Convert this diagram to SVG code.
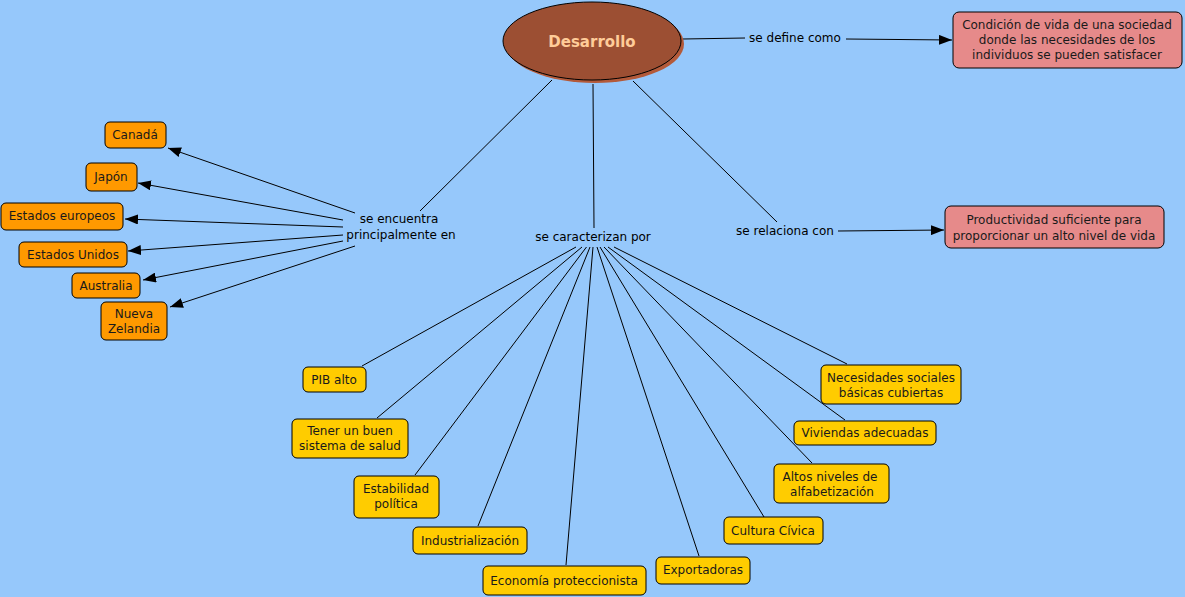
<svg xmlns="http://www.w3.org/2000/svg" width="1185" height="597" viewBox="0 0 1185 597">
<style>
text{font-family:"DejaVu Sans","Verdana",sans-serif;font-size:12px;fill:#1a1a1a;text-anchor:middle}
.lbl{fill:#000}
.or{fill:#ff9900;stroke:#000;stroke-width:1}
.ye{fill:#ffcc00;stroke:#000;stroke-width:1}
.pk{fill:#e68a8a;stroke:#000;stroke-width:1}
.ln{stroke:#000;stroke-width:1;fill:none}
.ar{stroke:#000;stroke-width:1;fill:none;marker-end:url(#ah)}
</style>
<defs>
<marker id="ah" markerUnits="userSpaceOnUse" markerWidth="14" markerHeight="10" refX="13" refY="5" orient="auto">
<path d="M0,0 L13,5 L0,10 Z" fill="#000"/>
</marker>
</defs>
<rect width="1185" height="597" fill="#96c8fb"/>
<g id="connectors">
<line class="ln" x1="683" y1="39" x2="745" y2="38"/>
<line class="ar" x1="846" y1="39" x2="952" y2="40"/>
<line class="ln" x1="633" y1="81" x2="777" y2="222"/>
<line class="ar" x1="838" y1="231" x2="944" y2="230"/>
<line class="ln" x1="552" y1="80" x2="420" y2="211"/>
<line class="ln" x1="593" y1="84" x2="594" y2="228"/>
<line class="ar" x1="355" y1="213" x2="168" y2="148"/>
<line class="ar" x1="343" y1="220" x2="138" y2="183"/>
<line class="ar" x1="343" y1="227" x2="125" y2="219"/>
<line class="ar" x1="343" y1="235" x2="128" y2="251"/>
<line class="ar" x1="343" y1="241" x2="143" y2="280"/>
<line class="ar" x1="355" y1="246" x2="170" y2="307"/>
<line class="ln" x1="576" y1="247" x2="362" y2="366"/>
<line class="ln" x1="582" y1="247" x2="377" y2="418"/>
<line class="ln" x1="586.5" y1="247" x2="415" y2="475"/>
<line class="ln" x1="590" y1="247" x2="478" y2="526"/>
<line class="ln" x1="593" y1="247" x2="566" y2="565"/>
<line class="ln" x1="597" y1="247" x2="699" y2="556"/>
<line class="ln" x1="600" y1="247" x2="764" y2="517"/>
<line class="ln" x1="604" y1="247" x2="812" y2="463"/>
<line class="ln" x1="608" y1="247" x2="845" y2="420"/>
<line class="ln" x1="614" y1="247" x2="847" y2="364"/>
</g>
<g id="labels">
<text class="lbl" x="795" y="42">se define como</text>
<text class="lbl" x="785" y="235">se relaciona con</text>
<text class="lbl" x="399" y="223">se encuentra</text>
<text class="lbl" x="401" y="239">principalmente en</text>
<text class="lbl" x="593" y="241">se caracterizan por</text>
</g>
<g id="desarrollo">
<ellipse cx="595" cy="44" rx="89" ry="39" fill="#b35a3a"/>
<ellipse cx="592" cy="41" rx="89" ry="39" fill="#9c4f33" stroke="#000" stroke-width="1"/>
<text x="592" y="47" style="font-size:15px;font-weight:bold;fill:#ffcc99">Desarrollo</text>
</g>
<g id="condicion">
<rect class="pk" x="953" y="12" width="229" height="56" rx="6"/>
<text x="1067" y="29">Condición de vida de una sociedad</text>
<text x="1067" y="44">donde las necesidades de los</text>
<text x="1067" y="59">individuos se pueden satisfacer</text>
</g>
<g id="productividad">
<rect class="pk" x="945" y="206" width="219" height="42" rx="6"/>
<text x="1054" y="224">Productividad suficiente para</text>
<text x="1054" y="240">proporcionar un alto nivel de vida</text>
</g>
<g id="canada"><rect class="or" x="105" y="122" width="61" height="26" rx="5"/><text x="135" y="139">Canadá</text></g>
<g id="japon"><rect class="or" x="86" y="163" width="51" height="28" rx="5"/><text x="111" y="181">Japón</text></g>
<g id="europeos"><rect class="or" x="1" y="203" width="122" height="27" rx="5"/><text x="62" y="220">Estados europeos</text></g>
<g id="unidos"><rect class="or" x="19" y="242" width="108" height="25" rx="5"/><text x="73" y="259">Estados Unidos</text></g>
<g id="australia"><rect class="or" x="72" y="273" width="68" height="25" rx="5"/><text x="106" y="290">Australia</text></g>
<g id="nzelandia"><rect class="or" x="101" y="302" width="66" height="38" rx="5"/><text x="134" y="318">Nueva</text><text x="134" y="333">Zelandia</text></g>
<g id="pib"><rect class="ye" x="303" y="367" width="63" height="25" rx="5"/><text x="334" y="384">PIB alto</text></g>
<g id="salud"><rect class="ye" x="292" y="419" width="116" height="39" rx="5"/><text x="350" y="435">Tener un buen</text><text x="350" y="450">sistema de salud</text></g>
<g id="estabilidad"><rect class="ye" x="354" y="476" width="85" height="42" rx="5"/><text x="396" y="493">Estabilidad</text><text x="396" y="508">política</text></g>
<g id="industrializacion"><rect class="ye" x="413" y="527" width="114" height="27" rx="5"/><text x="470" y="545">Industrialización</text></g>
<g id="economia"><rect class="ye" x="483" y="566" width="163" height="29" rx="5"/><text x="564" y="585">Economía proteccionista</text></g>
<g id="exportadoras"><rect class="ye" x="656" y="557" width="94" height="27" rx="5"/><text x="703" y="574">Exportadoras</text></g>
<g id="cultura"><rect class="ye" x="724" y="517" width="99" height="27" rx="5"/><text x="773" y="535">Cultura Cívica</text></g>
<g id="alfabetizacion"><rect class="ye" x="774" y="464" width="115" height="39" rx="5"/><text x="830" y="481">Altos niveles de</text><text x="832" y="496">alfabetización</text></g>
<g id="viviendas"><rect class="ye" x="794" y="421" width="142" height="24" rx="5"/><text x="865" y="437">Viviendas adecuadas</text></g>
<g id="necesidades"><rect class="ye" x="821" y="365" width="140" height="39" rx="5"/><text x="891" y="382">Necesidades sociales</text><text x="891" y="397">básicas cubiertas</text></g>
</svg>
